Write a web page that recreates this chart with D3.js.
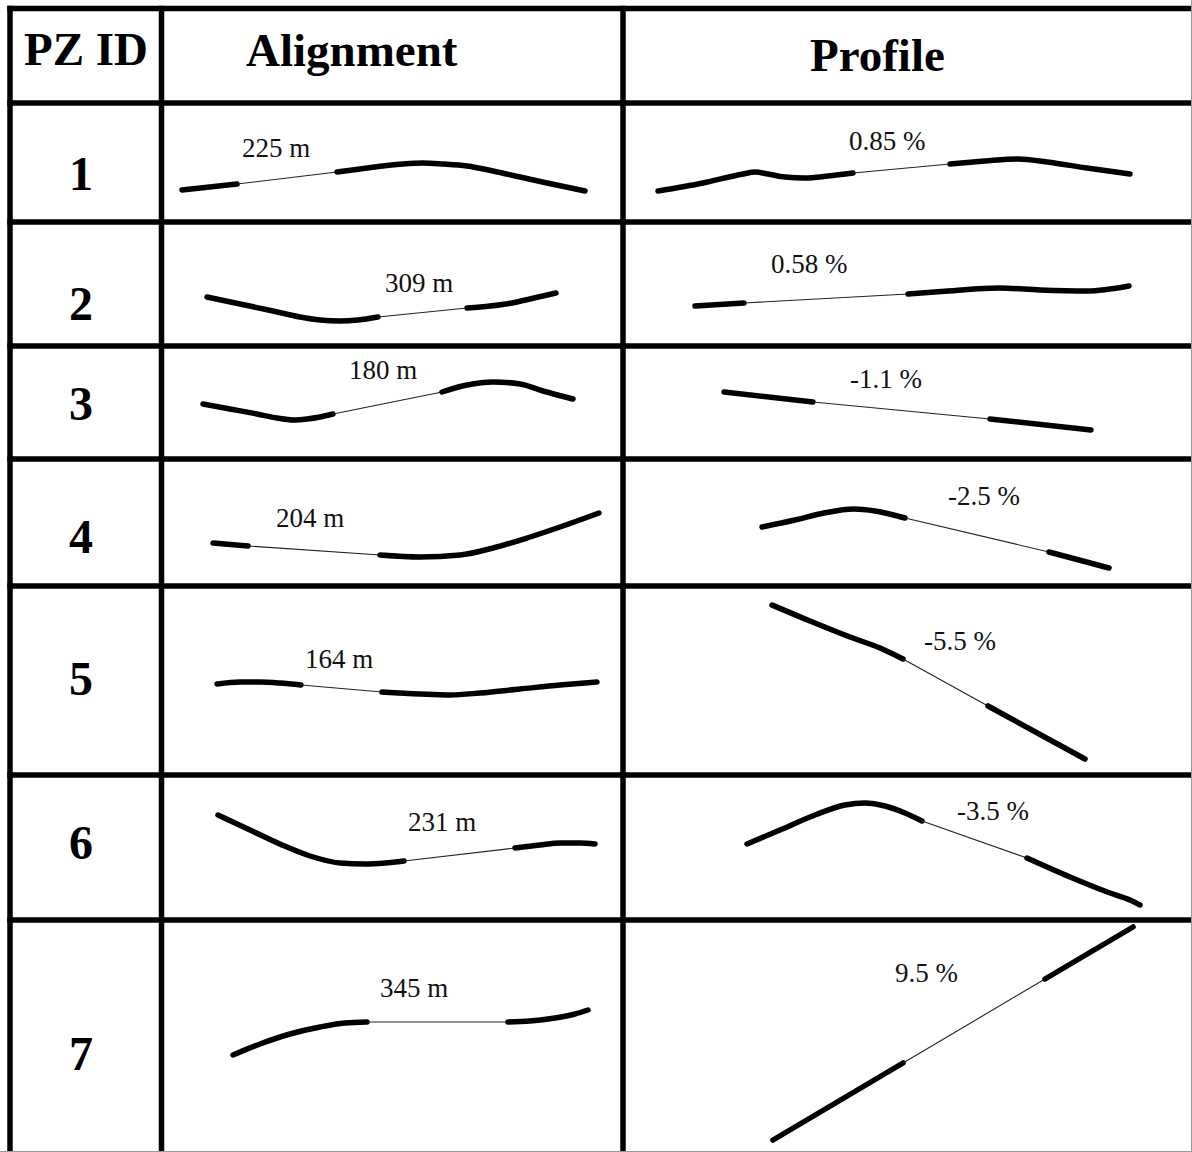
<!DOCTYPE html>
<html><head><meta charset="utf-8">
<script src="https://cdn.jsdelivr.net/npm/d3@7"></script>
<style>html,body{margin:0;padding:0;background:#fff;} svg{display:block;}</style>
</head><body>
<svg id="chart" width="1192" height="1152"></svg>
<script>
// ---------------- data ----------------
const headers = ["PZ ID", "Alignment", "Profile"];
const pzIds = ["1", "2", "3", "4", "5", "6", "7"];
const alignmentLabels = ["225 m", "309 m", "180 m", "204 m", "164 m", "231 m", "345 m"];
const profileLabels = ["0.85 %", "0.58 %", "-1.1 %", "-2.5 %", "-5.5 %", "-3.5 %", "9.5 %"];
// label anchor points, in cell sketch units
const alignmentLabelAt = [[80,54],[223,70],[187,33],[114,68],[143,82],[246,56],[218,77]];
const profileLabelAt = [[226,47],[148,51],[227,42],[325,46],[301,64],[334,45],[272,62]];
// each sketch: [curve before, tangent, curve after] in cell sketch units
const alignmentSketches = [
  [[[20,87],[75,81]], [[75,81],[175,69]],
   [[175,69],[198,66],[221,63],[241,61],[261,60],[281,61],[305,63],[331,68],[358,74],[385,80],[423,88]]],
  [[[45,75],[78,82],[111,89],[138,95],[158,98],[178,99],[196,98],[216,95]], [[216,95],[305,86]],
   [[305,86],[328,84],[350,81],[372,76],[394,71]]],
  [[[41,58],[68,63],[95,68],[115,72],[131,74],[145,73],[158,71],[171,68]], [[171,68],[280,46]],
   [[280,46],[305,39],[331,36],[358,38],[381,45],[411,53]]],
  [[[51,84],[86,87]], [[86,87],[218,96]],
   [[218,96],[258,98],[298,96],[331,89],[365,79],[398,68],[437,54]]],
  [[[55,98],[78,96],[98,96],[118,97],[139,99]], [[139,99],[220,106]],
   [[220,106],[258,108],[288,109],[318,107],[358,103],[398,99],[435,96]]],
  [[[56,40],[88,55],[120,70],[148,81],[178,88],[203,89],[223,88],[242,86]], [[242,86],[353,73]],
   [[353,73],[378,70],[398,68],[418,68],[433,69]]],
  [[[71,135],[98,124],[128,114],[158,107],[183,103],[205,102]], [[205,102],[346,102]],
   [[346,102],[368,101],[393,98],[413,94],[426,90]]]
];
const profileSketches = [
  [[[35,88],[80,80],[120,71],[132,69],[145,71],[162,74],[182,75],[205,73],[230,70]], [[230,70],[327,61]],
   [[327,61],[362,58],[395,56],[424,59],[464,65],[507,71]]],
  [[[72,84],[121,81]], [[121,81],[285,72]],
   [[285,72],[325,69],[376,66],[417,68],[464,69],[506,64]]],
  [[[101,46],[190,56]], [[190,56],[367,73]], [[367,73],[468,84]]],
  [[[139,68],[172,61],[201,54],[231,50],[252,52],[282,59]], [[282,59],[426,93]], [[426,93],[486,109]]],
  [[[149,19],[187,35],[227,51],[257,62],[280,73]], [[280,73],[365,120]], [[365,120],[462,173]]],
  [[[124,69],[157,55],[192,40],[222,30],[242,28],[262,31],[282,38],[299,46]], [[299,46],[404,83]],
   [[404,83],[447,102],[487,118],[507,125],[517,130]]],
  [[[150,220],[280,143]], [[280,143],[422,59]], [[422,59],[510,7]]]
];

// ---------------- layout ----------------
const W = 1192, H = 1152;
const colX = [10, 161.5, 623, 1192];
const rowY = [8.5, 103, 222, 346, 459, 586, 775, 920, 1152];
const serif = "'Liberation Serif', 'Times New Roman', Times, serif";

const svg = d3.select("#chart");
svg.append("rect").attr("width", W).attr("height", H).attr("fill", "#fff");

// sketches
const gSk = svg.append("g");
function drawCell(sketch, label, at, x0, x1, y0, y1) {
  const x = d3.scaleLinear().domain([0, x1 - x0]).range([x0, x1]);
  const y = d3.scaleLinear().domain([0, y1 - y0]).range([y0, y1]);
  sketch.forEach((pts, i) => {
    const thick = i !== 1;
    const gen = d3.line().x(p => x(p[0])).y(p => y(p[1]))
      .curve(thick ? d3.curveMonotoneX : d3.curveLinear);
    gSk.append("path").attr("d", gen(pts))
      .attr("fill", "none")
      .attr("stroke", thick ? "#000" : "#222")
      .attr("stroke-width", thick ? 5.5 : 1.1)
      .attr("stroke-linecap", "round")
      .attr("stroke-linejoin", "round");
  });
  gSk.append("text").attr("x", x(at[0])).attr("y", y(at[1]))
    .attr("font-family", serif).attr("font-size", 27).attr("fill", "#111")
    .text(label);
}
pzIds.forEach((id, i) => {
  const y0 = rowY[i + 1], y1 = rowY[i + 2];
  drawCell(alignmentSketches[i], alignmentLabels[i], alignmentLabelAt[i], colX[1] + 0.5, colX[2], y0, y1);
  drawCell(profileSketches[i], profileLabels[i], profileLabelAt[i], colX[2], colX[3], y0, y1);
});

// IDs
const idBase = [190, 320, 420, 553, 695, 859, 1070];
svg.append("g").selectAll("text").data(pzIds).join("text")
  .attr("x", 81).attr("y", (d, i) => idBase[i])
  .attr("text-anchor", "middle")
  .attr("font-family", serif).attr("font-weight", "bold").attr("font-size", 48)
  .text(d => d);

// headers
const headPos = [[86, 65, "middle"], [246, 66, "start"], [810, 71, "start"]];
svg.append("g").selectAll("text").data(headers).join("text")
  .attr("x", (d, i) => headPos[i][0]).attr("y", (d, i) => headPos[i][1])
  .attr("text-anchor", (d, i) => headPos[i][2])
  .attr("font-family", serif).attr("font-weight", "bold").attr("font-size", 47)
  .text(d => d);

// grid
const grid = svg.append("g").attr("stroke", "#000").attr("stroke-width", 5.5);
rowY.slice(0, 8).forEach(yy => grid.append("line").attr("x1", colX[0] - 2.75).attr("x2", W).attr("y1", yy).attr("y2", yy));
colX.slice(0, 3).forEach(xx => grid.append("line").attr("x1", xx).attr("x2", xx).attr("y1", rowY[0] - 2.75).attr("y2", H));
svg.append("line").attr("x1", W - 0.5).attr("x2", W - 0.5).attr("y1", 0).attr("y2", H).attr("stroke", "#999").attr("stroke-width", 1);
svg.append("line").attr("x1", 0).attr("x2", W).attr("y1", H - 0.5).attr("y2", H - 0.5).attr("stroke", "#999").attr("stroke-width", 1);
</script>
</body></html>
